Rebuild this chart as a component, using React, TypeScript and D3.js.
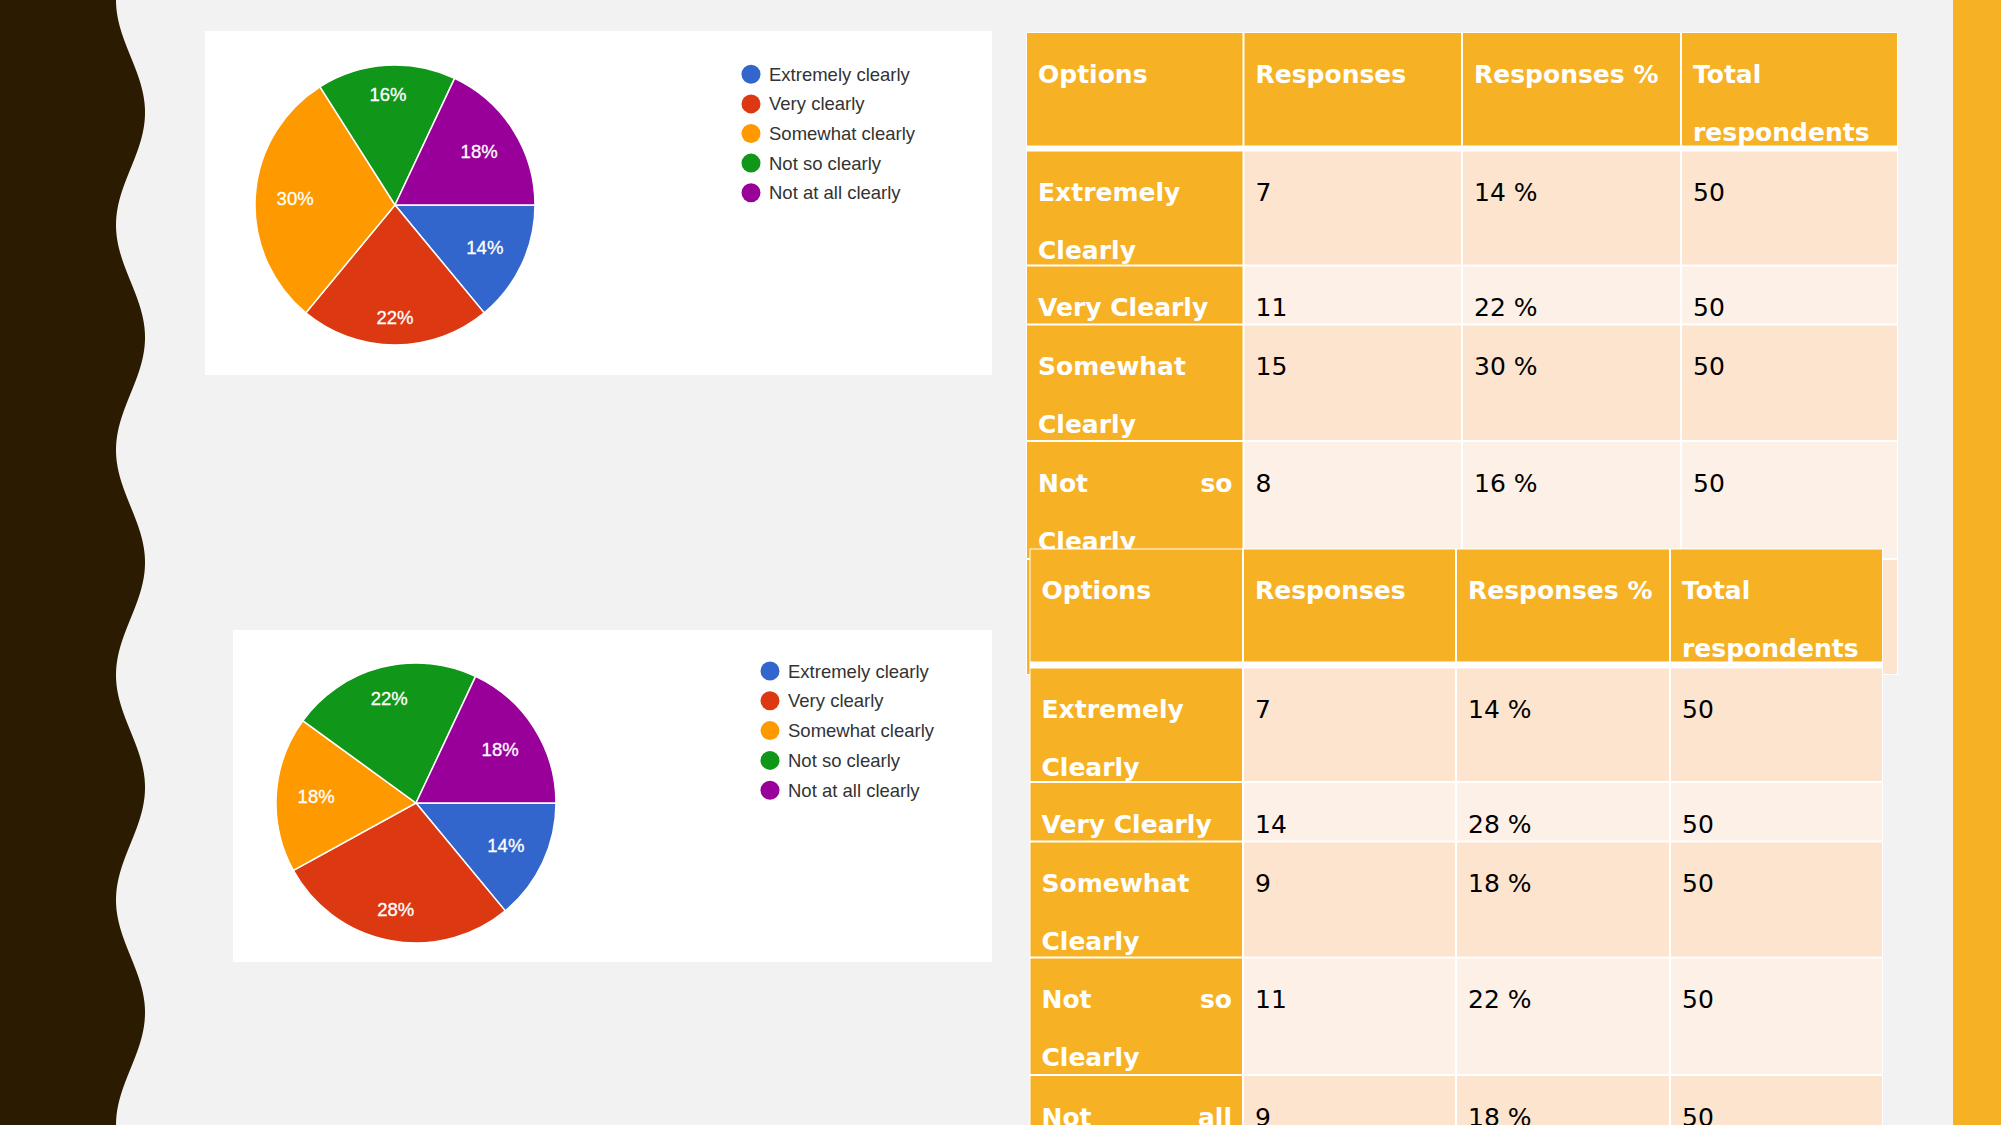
import React from "react";
import * as d3 from "d3";

const W = 2001;
const H = 1125;

const optionLabels = ["Extremely clearly", "Very clearly", "Somewhat clearly", "Not so clearly", "Not at all clearly"];
const sliceColors = ["#3366CC", "#DC3912", "#FF9900", "#109618", "#990099"];
const pie1Percent = [14, 22, 30, 16, 18];
const pie2Percent = [14, 28, 18, 22, 18];

const tableHeaders = [["Options"], ["Responses"], ["Responses %"], ["Total", "respondents"]];
const rowLabelLines: (string | string[])[][] = [
  ["Extremely", "Clearly"],
  ["Very Clearly"],
  ["Somewhat", "Clearly"],
  [["Not", "so"], "Clearly"],
  [["Not", "all"], "Clearly"],
];
const table1Responses = [7, 11, 15, 8, 9];
const table1Pct = [14, 22, 30, 16, 18];
const table2Responses = [7, 14, 9, 11, 9];
const table2Pct = [14, 28, 18, 22, 18];
const totalRespondents = [50, 50, 50, 50, 50];

const YELLOW = "#F7B125";
const PEACH_DARK = "#FCE4CF";
const PEACH_LIGHT = "#FDF0E6";

function Pie({ cx, cy, r, values }: { cx: number; cy: number; r: number; values: number[] }) {
  const pie = d3.pie<number>().sort(null).value((d) => d).startAngle(Math.PI / 2).endAngle(Math.PI / 2 + 2 * Math.PI);
  const arcs = pie(values);
  const arc = d3.arc<d3.PieArcDatum<number>>().innerRadius(0).outerRadius(r);
  const hw = 18.5, hh = 7, rl = 119;
  return (
    <g transform={`translate(${cx},${cy})`}>
      {arcs.map((a, i) => (
        <path key={i} d={arc(a) || ""} fill={sliceColors[i]} stroke="#fff" strokeWidth={1.5} />
      ))}
      {arcs.map((a, i) => {
        const m = (a.startAngle + a.endAngle) / 2;
        const s = Math.sin(m), c = -Math.cos(m);
        const dist = rl - (Math.abs(s) * hw + Math.abs(c) * hh);
        return (
          <text key={"t" + i} x={s * dist} y={c * dist + 6.5} textAnchor="middle" fill="#fff"
            stroke="#fff" strokeWidth={0.3}
            fontFamily="'Liberation Sans', Arial, sans-serif" fontSize={18.5}>
            {values[i]}%
          </text>
        );
      })}
    </g>
  );
}

function Legend({ x, y, step }: { x: number; y: number; step: number }) {
  return (
    <g>
      {optionLabels.map((l, i) => (
        <g key={i}>
          <circle cx={x} cy={y + i * step} r={9.5} fill={sliceColors[i]} />
          <text x={x + 18} y={y + i * step + 6.5} fontFamily="'Liberation Sans', Arial, sans-serif" fontSize={18.5} fill="#333">
            {l}
          </text>
        </g>
      ))}
    </g>
  );
}

function Table({ cols, header, rows, responses, pct, textRows }: {
  cols: number[]; header: [number, number]; rows: [number, number][]; responses: number[]; pct: number[]; textRows: number;
}) {
  const font = "'DejaVu Sans', sans-serif";
  const fs = 25;
  const pad = 12;
  const lineH = 58;
  const base = 50.5;
  const cells: React.ReactNode[] = [];
  const x0 = cols[0], x1 = cols[cols.length - 1];
  cells.push(<rect key="bg" x={x0} y={header[0]} width={x1 - x0} height={rows[rows.length - 1][1] - header[0]} fill="#fff" />);
  for (let c = 0; c < 4; c++) {
    cells.push(
      <rect key={"h" + c} x={cols[c] + 1} y={header[0] + 1} width={cols[c + 1] - cols[c] - 2} height={header[1] - header[0] - 2} fill={YELLOW} />
    );
    tableHeaders[c].forEach((t, li) => {
      cells.push(
        <text key={"ht" + c + li} x={cols[c] + pad} y={header[0] + base + li * lineH} fontFamily={font} fontWeight="bold" fontSize={fs} fill="#fff">
          {t}
        </text>
      );
    });
  }
  rows.forEach(([t, b], ri) => {
    const fill = ri % 2 === 0 ? PEACH_DARK : PEACH_LIGHT;
    for (let c = 0; c < 4; c++) {
      cells.push(
        <rect key={`r${ri}c${c}`} x={cols[c] + 1} y={t + 1} width={cols[c + 1] - cols[c] - 2} height={b - t - 2} fill={c === 0 ? YELLOW : fill} />
      );
    }
    if (ri >= textRows) return;
    rowLabelLines[ri].forEach((ln, li) => {
      const y = t + base + li * lineH;
      if (Array.isArray(ln)) {
        cells.push(
          <text key={`l${ri}${li}a`} x={cols[0] + pad} y={y} fontFamily={font} fontWeight="bold" fontSize={fs} fill="#fff">{ln[0]}</text>
        );
        cells.push(
          <text key={`l${ri}${li}b`} x={cols[1] - 11} y={y} textAnchor="end" fontFamily={font} fontWeight="bold" fontSize={fs} fill="#fff">{ln[1]}</text>
        );
      } else {
        cells.push(
          <text key={`l${ri}${li}`} x={cols[0] + pad} y={y} fontFamily={font} fontWeight="bold" fontSize={fs} fill="#fff">{ln}</text>
        );
      }
    });
    const vals = [String(responses[ri]), `${pct[ri]} %`, String(totalRespondents[ri])];
    vals.forEach((v, vi) => {
      cells.push(
        <text key={`v${ri}${vi}`} x={cols[vi + 1] + pad} y={t + base} fontFamily={font} fontSize={fs} fill="#000">{v}</text>
      );
    });
  });
  return <g>{cells}</g>;
}

export default function App() {
  const period = 225;
  const ys = d3.range(0, H + 2, 2);
  const wave = d3.line<number>().x((y) => 130.5 - 14.5 * Math.cos((2 * Math.PI * y) / period)).y((y) => y);
  const wavePath = `M0,0 L${wave(ys)!.slice(1)} L0,${H} Z`;

  return (
    <svg width={W} height={H} style={{ position: "absolute", left: 0, top: 0, display: "block" }}>
      <rect x={0} y={0} width={W} height={H} fill="#F2F2F2" />
      <path d={wavePath} fill="#2A1B01" />
      <rect x={1953} y={0} width={W - 1953} height={H} fill={YELLOW} />

      <rect x={205} y={31} width={787} height={344} fill="#fff" />
      <Pie cx={395} cy={205} r={140} values={pie1Percent} />
      <Legend x={751} y={74.3} step={29.6} />

      <rect x={233} y={630} width={759} height={332} fill="#fff" />
      <Pie cx={416} cy={803} r={140} values={pie2Percent} />
      <Legend x={770} y={671} step={29.8} />

      <Table
        cols={[1026, 1243.5, 1462, 1681, 1898]}
        header={[32, 146.5]}
        rows={[[150.5, 265.5], [265.5, 324.5], [324.5, 441], [441, 559], [559, 675]]}
        responses={table1Responses}
        pct={table1Pct}
        textRows={4}
      />
      <Table
        cols={[1029.5, 1243, 1456, 1670, 1883]}
        header={[548.5, 662.5]}
        rows={[[667.5, 782], [782, 841.5], [841.5, 957.5], [957.5, 1075], [1075, 1192]]}
        responses={table2Responses}
        pct={table2Pct}
        textRows={5}
      />
    </svg>
  );
}
